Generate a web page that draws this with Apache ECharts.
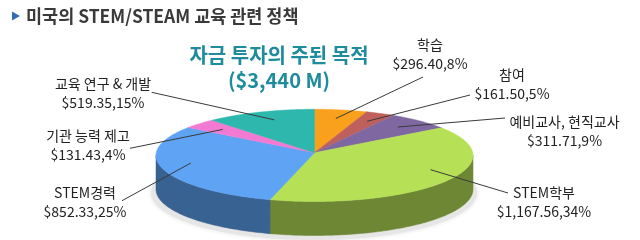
<!DOCTYPE html>
<html><head><meta charset="utf-8">
<script src="https://cdn.jsdelivr.net/npm/echarts@6.0.0/dist/echarts.min.js"></script>
<style>html,body{margin:0;padding:0;background:#fff}#c{width:640px;height:240px}</style>
</head><body><div id="c"></div>
<script>
// ---- data ----
const categories = ['학습', '참여', '예비교사, 현직교사', 'STEM학부', 'STEM경력', '기관 능력 제고', '교육 연구 & 개발'];
const values = [296.40, 161.50, 311.71, 1167.56, 852.33, 131.43, 519.35];
const percents = [8, 5, 9, 34, 25, 4, 15];
const titleText = '미국의 STEM/STEAM 교육 관련 정책';
const centerTitle = ['자금 투자의 주된 목적', '($3,440 M)'];

// ---- styles / layout ----
const colors = ['#F9A11C', '#C0605C', '#7F68A1', '#B6E157', '#5EA3F4', '#F27AD2', '#2EB8AD'];
const PIE = { cx: 314.5, cy: 155.4, rx: 158.5, ry: 46.1, depth: 34, apexDy: -2.7 };
const SHADOW = { cx: 314, cy: 193, rx: 163, ry: 47 };
// label centre (x,y) and leader end (x,y)
const labelLayout = [
  [430, 54, 423, 77],
  [512, 84.5, 470, 95],
  [564.5, 131, 505, 118],
  [544, 202, 508, 193],
  [85, 202, 122, 200.7],
  [88, 145, 130, 148.3],
  [103, 92.7, 151.7, 92.3]
];
const WARP_A = 0.323, WARP_B = 0.131; // perspective look of the 3D pie

const total = values.reduce((a, b) => a + b, 0);
const starts = [], ends = [];
let acc = 0;
values.forEach(v => { starts.push(acc / total * 2 * Math.PI); acc += v; ends.push(acc / total * 2 * Math.PI); });

function warp(phi) { return phi - WARP_A * Math.sin(phi) + WARP_B * (Math.cos(phi) - 1); }
function unitPoint(psi) {
  const pa = PIE.apexDy / PIE.ry;
  const dx = Math.sin(psi), dy = -Math.cos(psi);
  const pd = pa * dy;
  const t = -pd + Math.sqrt(pd * pd - pa * pa + 1);
  return [dx * t, pa + dy * t];
}
function toLayout(u) { return [PIE.cx + PIE.rx * u[0], PIE.cy + PIE.ry * u[1]]; }
function darken(hex, f) {
  const n = parseInt(hex.slice(1), 16);
  const r = Math.round(((n >> 16) & 255) * f), g = Math.round(((n >> 8) & 255) * f), b = Math.round((n & 255) * f);
  return 'rgb(' + r + ',' + g + ',' + b + ')';
}
function fmt(v) {
  return '$' + v.toLocaleString('en-US', { minimumFractionDigits: 2, maximumFractionDigits: 2 });
}

const sliceData = categories.map((c, i) => [i, 0]);

function renderShadow(params, api) {
  const pts = [];
  for (let k = 0; k < 120; k++) {
    const t = k / 120 * 2 * Math.PI;
    pts.push(api.coord([SHADOW.cx + SHADOW.rx * Math.cos(t), SHADOW.cy + SHADOW.ry * Math.sin(t)]));
  }
  return { type: 'polygon', shape: { points: pts }, style: { fill: '#e6e6e6', shadowBlur: 4, shadowColor: 'rgba(0,0,0,0.12)' } };
}

function renderSide(params, api) {
  const i = api.value(0);
  const p1 = unitPoint(warp(starts[i])), p2 = unitPoint(warp(ends[i]));
  let ta = Math.atan2(p1[1], p1[0]); if (ta < -Math.PI / 2 - 1e-9) ta += 2 * Math.PI;
  let tb = Math.atan2(p2[1], p2[0]); if (tb < -Math.PI / 2 - 1e-9) tb += 2 * Math.PI;
  if (i === values.length - 1) tb = 1.5 * Math.PI;
  if (tb < ta) tb += 2 * Math.PI;
  const a = Math.max(ta, 0), b = Math.min(tb, Math.PI);
  if (!(a < b)) return null;
  const top = [], bot = [];
  const n = Math.max(4, Math.ceil((b - a) / 0.02));
  for (let k = 0; k <= n; k++) {
    const t = a + (b - a) * k / n;
    const x = PIE.cx + PIE.rx * Math.cos(t), y = PIE.cy + PIE.ry * Math.sin(t);
    top.push(api.coord([x, y]));
    bot.push(api.coord([x, y + PIE.depth]));
  }
  return { type: 'polygon', shape: { points: top.concat(bot.reverse()) }, style: { fill: darken(colors[i], 0.6), stroke: darken(colors[i], 0.6), lineWidth: 0.5 } };
}

function renderTop(params, api) {
  const i = api.value(0);
  const s = warp(starts[i]), e = warp(ends[i]);
  const pts = [api.coord([PIE.cx, PIE.cy + PIE.apexDy])];
  const n = Math.max(4, Math.ceil((e - s) / 0.015));
  for (let k = 0; k <= n; k++) pts.push(api.coord(toLayout(unitPoint(s + (e - s) * k / n))));
  return { type: 'polygon', shape: { points: pts }, style: { fill: colors[i], stroke: colors[i], lineWidth: 0.5 } };
}

function renderLabel(params, api) {
  const i = api.value(0);
  const mid = warp((starts[i] + ends[i]) / 2);
  const u = unitPoint(mid);
  const pa = PIE.apexDy / PIE.ry;
  const su = [u[0] * 0.8, pa + (u[1] - pa) * 0.8];
  const sp = api.coord(toLayout(su));
  const L = labelLayout[i];
  const ep = api.coord([L[2], L[3]]);
  const cp = api.coord([L[0], L[1]]);
  return {
    type: 'group',
    children: [
      { type: 'line', shape: { x1: sp[0], y1: sp[1], x2: ep[0], y2: ep[1] }, style: { stroke: '#3a3a3a', lineWidth: 1 } },
      { type: 'text', x: cp[0], y: cp[1], style: {
          text: categories[i] + '\n' + fmt(values[i]) + ',' + percents[i] + '%',
          align: 'center', verticalAlign: 'middle', lineHeight: 19,
          font: '14px "Noto Sans CJK KR", "Noto Sans", sans-serif', fill: '#222' } }
    ]
  };
}

const chart = echarts.init(document.getElementById('c'), null, { renderer: 'canvas' });
chart.setOption({
  animation: false,
  grid: { left: 0, right: 0, top: 0, bottom: 0 },
  xAxis: { type: 'value', min: 0, max: 640, show: false },
  yAxis: { type: 'value', min: 0, max: 240, inverse: true, show: false },
  graphic: [
    { type: 'polygon', shape: { points: [[12, 11.5], [12, 20.5], [20, 16]] }, style: { fill: '#2E6CB4' } },
    { type: 'text', x: 26, y: 16.5, scaleX: 0.97, style: { text: titleText, verticalAlign: 'middle',
        font: 'bold 18px "Noto Sans CJK KR", sans-serif', fill: '#3a3a3a' } },
    { type: 'text', x: 279, y: 68, style: { text: centerTitle.join('\n'), align: 'center', verticalAlign: 'middle', lineHeight: 25,
        font: 'bold 20px "Noto Sans CJK KR", sans-serif', fill: '#1E8C9C' } }
  ],
  series: [
    { type: 'custom', clip: false, z: 1, data: [[0, 0]], renderItem: renderShadow, silent: true },
    { type: 'custom', clip: false, z: 2, data: sliceData, renderItem: renderSide, silent: true },
    { type: 'custom', clip: false, z: 3, data: sliceData, renderItem: renderTop, silent: true },
    { type: 'custom', clip: false, z: 4, data: sliceData, renderItem: renderLabel, silent: true }
  ]
});
</script>
</body></html>
